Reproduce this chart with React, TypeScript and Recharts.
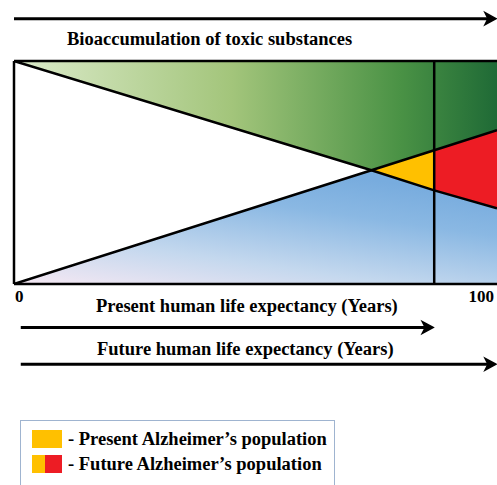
import React from "react";
import {
  ComposedChart,
  Area,
  Line,
  XAxis,
  YAxis,
  ReferenceLine,
} from "recharts";

// ---------------------- DATA ----------------------
const years = [0, 74, 87, 100];
// boundary of the green wedge (toxic load), falls from top-left corner
const toxicBoundary = [100, 51, 42, 34];
// boundary of the blue wedge, rises from bottom-left corner
const reserveBoundary = [0, 51, 60, 69];

const crossYear = 74;
const presentLifeExpectancy = 87;
const futureLifeExpectancy = 100;
const xTicks = [0, 100];

const legendItems = [
  { label: "- Present Alzheimer\u2019s population", colors: ["#FFC000"] },
  { label: "- Future Alzheimer\u2019s population", colors: ["#FFC000", "#ED1C24"] },
];

const FONT = '"Liberation Serif", "Times New Roman", serif';

const rows = years.map((year, i) => {
  const a = toxicBoundary[i];
  const b = reserveBoundary[i];
  const hi = Math.max(a, b);
  const lo = Math.min(a, b);
  return {
    year,
    a,
    b,
    green: [hi, 100],
    blue: [0, lo],
    yellow: year >= crossYear && year <= presentLifeExpectancy ? [lo, hi] : null,
    red: year >= presentLifeExpectancy ? [lo, hi] : null,
  };
});

// arrow with a filled head, drawn on the segment recharts gives us
const Arrow = (props: any) => {
  const { x1, y1, x2, y2 } = props;
  const tip = x2 - 1;
  return (
    <g>
      <line x1={x1} y1={y1} x2={tip - 6} y2={y2} stroke="#000" strokeWidth={3} />
      <polygon
        points={`${tip},${y2} ${tip - 11},${y2 - 6} ${tip - 8},${y2} ${tip - 11},${y2 + 6}`}
        fill="#000"
        stroke="#000"
        strokeWidth={1.5}
        strokeLinejoin="miter"
      />
    </g>
  );
};

const EdgeTick = (props: any) => {
  const { x, y, payload, index } = props;
  const anchor = index === 0 ? "start" : "end";
  return (
    <text
      x={index === 0 ? x + 1 : x - 3}
      y={y + 10}
      textAnchor={anchor}
      fontFamily={FONT}
      fontWeight="bold"
      fontSize={17}
      fill="#000"
    >
      {payload.value}
    </text>
  );
};

const captionStyle = {
  fontFamily: FONT,
  fontWeight: "bold" as const,
  fontSize: 18.5,
  fill: "#000",
};

export default function App() {
  return (
    <div style={{ position: "absolute", left: 0, top: 0, width: 497, height: 485, background: "#fff" }}>
      <ComposedChart
        width={497}
        height={485}
        data={rows}
        margin={{ top: 61, right: 0, bottom: 181, left: 14 }}
      >
        <defs>
          <linearGradient id="greenGrad" x1="0" y1="0" x2="1" y2="0">
            <stop offset="0%" stopColor="#dcebcb" />
            <stop offset="45%" stopColor="#a3c57b" />
            <stop offset="80%" stopColor="#4a9245" />
            <stop offset="100%" stopColor="#1f6a36" />
          </linearGradient>
          <linearGradient id="blueGrad" x1="0" y1="1" x2="0.6" y2="0">
            <stop offset="0%" stopColor="#f6e8f3" />
            <stop offset="35%" stopColor="#c4d8ee" />
            <stop offset="75%" stopColor="#8ab8e3" />
            <stop offset="100%" stopColor="#78acde" />
          </linearGradient>
        </defs>

        <XAxis
          dataKey="year"
          type="number"
          domain={[0, 100]}
          ticks={xTicks}
          axisLine={false}
          tickLine={false}
          tick={<EdgeTick />}
          height={20}
          interval={0}
        />
        <YAxis type="number" domain={[0, 100]} hide allowDataOverflow />

        <Area type="linear" dataKey="green" stroke="none" fill="url(#greenGrad)" fillOpacity={1} isAnimationActive={false} />
        <Area type="linear" dataKey="blue" stroke="none" fill="url(#blueGrad)" fillOpacity={1} isAnimationActive={false} />
        <Area type="linear" dataKey="yellow" stroke="none" fill="#FFC000" fillOpacity={1} isAnimationActive={false} />
        <Area type="linear" dataKey="red" stroke="none" fill="#ED1C24" fillOpacity={1} isAnimationActive={false} />

        <Line type="linear" dataKey="a" stroke="#000" strokeWidth={2.5} dot={false} activeDot={false} isAnimationActive={false} />
        <Line type="linear" dataKey="b" stroke="#000" strokeWidth={2.5} dot={false} activeDot={false} isAnimationActive={false} />

        <ReferenceLine x={presentLifeExpectancy} stroke="#000" strokeWidth={2.5} />
        {/* frame: top, bottom and left edges (right edge runs off the page) */}
        <ReferenceLine y={100} stroke="#000" strokeWidth={2.5} />
        <ReferenceLine y={0} stroke="#000" strokeWidth={2.5} />
        <ReferenceLine x={0} stroke="#000" strokeWidth={2.5} />

        <ReferenceLine
          segment={[{ x: 0, y: 119 }, { x: futureLifeExpectancy, y: 119 }]}
          ifOverflow="visible"
          shape={<Arrow />}
        />
        <ReferenceLine
          segment={[{ x: 1.4, y: -19.5 }, { x: presentLifeExpectancy, y: -19.5 }]}
          ifOverflow="visible"
          shape={<Arrow />}
        />
        <ReferenceLine
          segment={[{ x: 1.4, y: -36 }, { x: futureLifeExpectancy, y: -36 }]}
          ifOverflow="visible"
          shape={<Arrow />}
        />

        <text x={67} y={45} {...captionStyle}>Bioaccumulation of toxic substances</text>
        <text x={96} y={312} {...captionStyle}>Present human life expectancy (Years)</text>
        <text x={97} y={355} {...captionStyle}>Future human life expectancy (Years)</text>
      </ComposedChart>

      <div
        style={{
          position: "absolute",
          left: 20,
          top: 420,
          width: 315,
          height: 80,
          border: "1.5px solid #9fb4d0",
          boxSizing: "border-box",
          fontFamily: FONT,
          fontWeight: "bold",
          fontSize: 18.5,
          color: "#000",
        }}
      >
        {legendItems.map((item, i) => (
          <div
            key={i}
            style={{ position: "absolute", left: 11, top: 9 + i * 25, display: "flex", alignItems: "center", whiteSpace: "nowrap" }}
          >
            <div style={{ display: "flex", width: 30, height: 18 }}>
              {item.colors.map((c, j) => (
                <div key={j} style={{ flex: item.colors.length > 1 && j === 0 ? "0 0 13px" : 1, background: c }} />
              ))}
            </div>
            <span style={{ marginLeft: 6, lineHeight: "18px" }}>{item.label}</span>
          </div>
        ))}
      </div>
    </div>
  );
}
